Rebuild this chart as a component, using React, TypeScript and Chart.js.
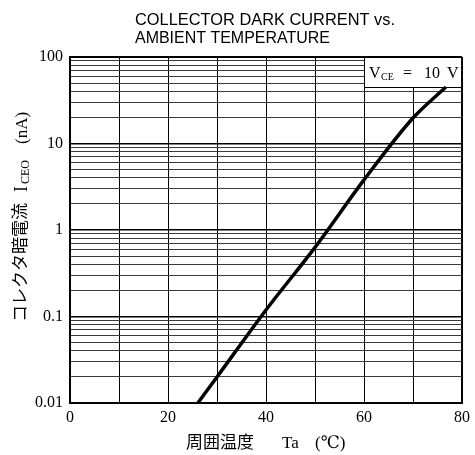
import React, { useEffect, useRef } from 'react';
import { Chart, registerables } from 'chart.js';

Chart.register(...registerables);

// ---- data ----
const temperatures = [26.1, 30, 40, 50, 60, 70, 76.7];
const darkCurrent = [0.01, 0.02, 0.119, 0.63, 3.8, 19.7, 45];

const yDecades = [0.01, 0.1, 1, 10, 100];
const yTickLabels = ['0.01', '0.1', '1', '10', '100'];
const xTickValues = [0, 20, 40, 60, 80];
const xTickLabels = ['0', '20', '40', '60', '80'];

const titleLines = ['COLLECTOR DARK CURRENT vs.', 'AMBIENT TEMPERATURE'];
const xTitleParts = ['周囲温度', 'Ta', '(℃)'];
const yTitleParts = ['コレクタ暗電流', 'I', 'CEO', '(nA)'];
const conditionParts = ['V', 'CE', '=', '10', 'V'];

// grid values for the log axis: 1..9 in each decade
const yGridValues: number[] = [];
yDecades.forEach((d, i) => {
  if (i === yDecades.length - 1) {
    yGridValues.push(d);
  } else {
    for (let k = 1; k <= 9; k++) yGridValues.push(+(k * d).toPrecision(3));
  }
});

const SERIF = '"Liberation Serif", "DejaVu Serif", serif';
const SANS = '"Liberation Sans", "DejaVu Sans", sans-serif';
const CJK = '"Noto Sans CJK JP", sans-serif';

const isDecade = (v: number) => yDecades.some((d) => Math.abs(d - v) / d < 1e-6);

const textPlugin = {
  id: 'chartTexts',
  beforeDatasetsDraw(chart: any) {
    const { ctx, chartArea, scales } = chart;
    const x0 = scales.x.getPixelForValue(60);
    const x1 = chartArea.right;
    const y0 = chartArea.top;
    const y1 = chartArea.top + 30;
    ctx.save();
    ctx.fillStyle = '#fff';
    ctx.fillRect(x0 + 1, y0 + 1, x1 - x0 - 2, y1 - y0);
    ctx.strokeStyle = '#000';
    ctx.lineWidth = 1;
    ctx.beginPath();
    ctx.moveTo(x0 + 0.5, y0);
    ctx.lineTo(x0 + 0.5, y1 + 0.5);
    ctx.lineTo(x1, y1 + 0.5);
    ctx.stroke();
    ctx.fillStyle = '#000';
    ctx.textBaseline = 'alphabetic';
    ctx.textAlign = 'left';
    ctx.font = `16px ${SERIF}`;
    ctx.fillText(conditionParts[0], x0 + 5, y0 + 21);
    ctx.font = `10px ${SERIF}`;
    ctx.fillText(conditionParts[1], x0 + 17, y0 + 23);
    ctx.font = `16px ${SERIF}`;
    ctx.fillText(conditionParts[2], x0 + 39, y0 + 21);
    ctx.fillText(conditionParts[3], x0 + 60, y0 + 21);
    ctx.fillText(conditionParts[4], x0 + 83, y0 + 21);
    ctx.restore();
  },
  afterDraw(chart: any) {
    const { ctx } = chart;
    ctx.save();
    ctx.fillStyle = '#000';
    ctx.textAlign = 'left';
    ctx.textBaseline = 'alphabetic';
    // title
    ctx.font = `17px ${SANS}`;
    ctx.fillText(titleLines[0], 135, 25, 260);
    ctx.fillText(titleLines[1], 135, 43, 195);
    // x title
    ctx.font = `17px ${CJK}`;
    ctx.fillText(xTitleParts[0], 186, 448);
    ctx.font = `17px ${SERIF}`;
    ctx.fillText(xTitleParts[1], 282, 448);
    ctx.fillText(xTitleParts[2], 315, 448);
    // y title (rotated): screen x = v, screen y = -u
    ctx.rotate(-Math.PI / 2);
    ctx.font = `17px ${CJK}`;
    ctx.fillText(yTitleParts[0], -322, 26);
    ctx.font = `18px ${SERIF}`;
    ctx.fillText(yTitleParts[1], -192, 27);
    ctx.font = `12px ${SERIF}`;
    ctx.fillText(yTitleParts[2], -184, 29);
    ctx.font = `17px ${SERIF}`;
    ctx.fillText(yTitleParts[3], -144, 27);
    ctx.restore();
  },
};

export default function App() {
  const ref = useRef<HTMLCanvasElement>(null);

  useEffect(() => {
    const chart = new Chart(ref.current as HTMLCanvasElement, {
      type: 'line',
      data: {
        datasets: [
          {
            data: temperatures.map((t, i) => ({ x: t, y: darkCurrent[i] })),
            borderColor: '#000',
            borderWidth: 3.5,
            pointRadius: 0,
            cubicInterpolationMode: 'monotone',
            fill: false,
          },
        ],
      },
      options: {
        responsive: false,
        animation: false,
        events: [],
        layout: { padding: { top: 57, right: 13, bottom: 0, left: 0 } },
        plugins: {
          legend: { display: false },
          tooltip: { enabled: false },
          title: { display: false },
        },
        scales: {
          x: {
            type: 'linear',
            min: 0,
            max: 80,
            afterFit: (s: any) => {
              s.height = 52;
            },
            ticks: {
              stepSize: 10,
              autoSkip: false,
              maxRotation: 0,
              padding: 5,
              color: '#000',
              font: { family: SERIF, size: 16 },
              callback: (v: any) => {
                const i = xTickValues.indexOf(Number(v));
                return i >= 0 ? xTickLabels[i] : '';
              },
            },
            grid: {
              drawTicks: false,
              color: '#000',
              lineWidth: (c: any) => (c.tick && c.tick.value === 80 ? 2 : 1),
            },
            border: { display: true, color: '#000', width: 2 },
          },
          y: {
            type: 'logarithmic',
            min: 0.01,
            max: 100,
            afterFit: (s: any) => {
              s.width = 70;
            },
            afterBuildTicks: (s: any) => {
              s.ticks = yGridValues.map((v) => ({ value: v, major: isDecade(v) }));
            },
            ticks: {
              autoSkip: false,
              padding: 7,
              color: '#000',
              font: { family: SERIF, size: 16 },
              callback: (v: any) => {
                const i = yDecades.findIndex((d) => Math.abs(d - Number(v)) / d < 1e-6);
                return i >= 0 ? yTickLabels[i] : '';
              },
            },
            grid: {
              drawTicks: false,
              color: (c: any) => (c.tick && isDecade(c.tick.value) ? '#000' : '#3a3a3a'),
              lineWidth: (c: any) => {
                if (!c.tick) return 1;
                if (c.tick.value === 100) return 2;
                return isDecade(c.tick.value) ? 1.6 : 1;
              },
            },
            border: { display: true, color: '#000', width: 2 },
          },
        },
      },
      plugins: [textPlugin],
    } as any);
    return () => chart.destroy();
  }, []);

  return (
    <div
      style={{
        position: 'fixed',
        left: 0,
        top: 0,
        width: 475,
        height: 455,
        background: '#fff',
      }}
    >
      <canvas
        ref={ref}
        width={475}
        height={455}
        style={{ display: 'block', width: 475, height: 455 }}
      />
    </div>
  );
}
